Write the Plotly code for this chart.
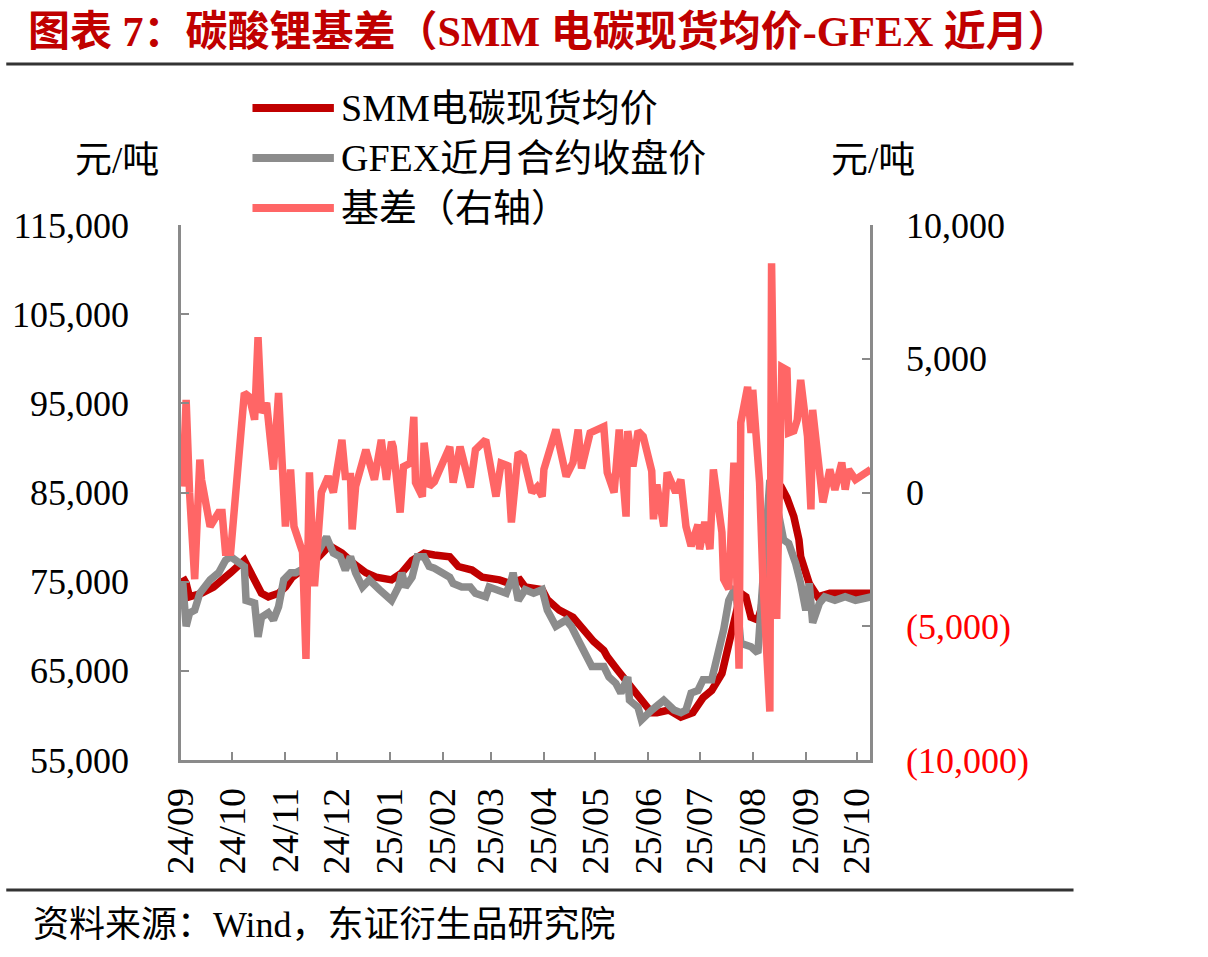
import plotly.graph_objects as go

# ---------------- data ----------------
smm_dates = [
    "2024-09-02", "2024-09-04", "2024-09-06", "2024-09-10", "2024-09-13", "2024-09-20", "2024-09-26",
    "2024-09-30", "2024-10-08", "2024-10-10", "2024-10-15", "2024-10-18", "2024-10-22", "2024-10-28",
    "2024-11-01", "2024-11-05", "2024-11-12", "2024-11-19", "2024-11-26", "2024-11-28", "2024-12-04",
    "2024-12-06", "2024-12-11", "2024-12-18", "2024-12-24", "2025-01-02", "2025-01-08", "2025-01-14",
    "2025-01-21", "2025-01-27", "2025-02-05", "2025-02-10", "2025-02-18", "2025-02-24", "2025-03-06",
    "2025-03-12", "2025-03-18", "2025-03-21", "2025-03-31", "2025-04-03", "2025-04-10", "2025-04-18",
    "2025-04-25", "2025-04-30", "2025-05-06", "2025-05-08", "2025-05-14", "2025-05-22", "2025-05-26",
    "2025-05-29", "2025-06-03", "2025-06-06", "2025-06-13", "2025-06-20", "2025-06-27", "2025-07-03",
    "2025-07-08", "2025-07-14", "2025-07-18", "2025-07-22", "2025-07-25", "2025-07-28", "2025-07-31",
    "2025-08-04", "2025-08-06", "2025-08-08", "2025-08-11", "2025-08-13", "2025-08-15", "2025-08-18",
    "2025-08-21", "2025-08-25", "2025-08-28", "2025-08-29", "2025-09-03", "2025-09-08", "2025-09-15",
    "2025-09-22", "2025-09-30", "2025-10-09",
]
smm_values = [
    75500, 74800, 73300, 73500, 73700, 74400, 75500,
    76000, 77400, 76700, 74800, 73700, 73300, 73700,
    74400, 75500, 76500, 77500, 78900, 78900, 78200,
    77800, 77000, 76000, 75500, 75200, 76000, 77400,
    78200, 78000, 77800, 76700, 76300, 75500, 75200,
    74800, 75200, 74400, 74100, 73000, 71800, 71000,
    69300, 68300, 67300, 66600, 65100, 63200, 62500,
    61500, 60300, 60300, 60600, 59800, 60300, 62000,
    62800, 64700, 68100, 71800, 73700, 73300, 71000,
    70700, 72000, 76000, 80500, 84000, 85300, 85500,
    84400, 82300, 79700, 77800, 74800, 73300, 73700,
    73700, 73700, 73700,
]

gfex_dates = [
    "2024-09-02", "2024-09-04", "2024-09-06", "2024-09-09", "2024-09-12", "2024-09-18", "2024-09-23",
    "2024-09-25", "2024-09-27", "2024-09-30", "2024-10-08", "2024-10-09", "2024-10-14", "2024-10-16",
    "2024-10-18", "2024-10-22", "2024-10-25", "2024-10-28", "2024-10-31", "2024-11-04", "2024-11-07",
    "2024-11-12", "2024-11-19", "2024-11-25", "2024-11-29", "2024-12-03", "2024-12-06", "2024-12-09",
    "2024-12-12", "2024-12-16", "2024-12-20", "2024-12-26", "2025-01-02", "2025-01-06", "2025-01-08",
    "2025-01-10", "2025-01-14", "2025-01-17", "2025-01-21", "2025-01-24", "2025-01-27", "2025-02-05",
    "2025-02-07", "2025-02-12", "2025-02-17", "2025-02-20", "2025-02-26", "2025-02-28", "2025-03-04",
    "2025-03-10", "2025-03-13", "2025-03-14", "2025-03-17", "2025-03-21", "2025-03-26", "2025-03-31",
    "2025-04-03", "2025-04-08", "2025-04-14", "2025-04-17", "2025-04-22", "2025-04-25", "2025-04-29",
    "2025-05-06", "2025-05-09", "2025-05-13", "2025-05-16", "2025-05-20", "2025-05-21", "2025-05-26",
    "2025-05-28", "2025-06-03", "2025-06-05", "2025-06-10", "2025-06-16", "2025-06-20", "2025-06-23",
    "2025-06-26", "2025-06-30", "2025-07-03", "2025-07-08", "2025-07-11", "2025-07-15", "2025-07-18",
    "2025-07-22", "2025-07-25", "2025-07-31", "2025-08-04", "2025-08-07", "2025-08-11", "2025-08-13",
    "2025-08-19", "2025-08-22", "2025-08-26", "2025-08-29", "2025-09-01", "2025-09-03", "2025-09-05",
    "2025-09-09", "2025-09-12", "2025-09-18", "2025-09-24", "2025-09-30", "2025-10-09",
]
gfex_values = [
    75000, 70000, 71500, 71800, 73700, 75200, 76000,
    76700, 77400, 77800, 76700, 72900, 72600, 68800,
    71000, 71500, 70700, 72200, 75200, 76000, 76000,
    76500, 78000, 80000, 78200, 77800, 76300, 77800,
    76000, 74400, 75200, 74100, 72900, 74400, 76000,
    74400, 75500, 77800, 77800, 76700, 76500, 75500,
    74800, 74400, 74400, 73700, 73300, 74400, 74100,
    73700, 75200, 76000, 72900, 74100, 73700, 74100,
    71800, 70000, 70700, 70000, 68100, 67000, 65500,
    65500, 64300, 63600, 62500, 64300, 61700, 60900,
    59500, 60600, 60900, 61700, 60600, 60300, 60600,
    62500, 62800, 64000, 64000, 66200, 69600, 72900,
    74400, 68100, 67700, 67000, 74800, 86400, 85600,
    79700, 79300, 77100, 74800, 71800, 74800, 70400,
    72600, 73300, 72900, 73300, 72900, 73300,
]

basis_dates = [
    "2024-09-02", "2024-09-04", "2024-09-06", "2024-09-09", "2024-09-12", "2024-09-13", "2024-09-18",
    "2024-09-23", "2024-09-25", "2024-09-27", "2024-09-30", "2024-10-08", "2024-10-11", "2024-10-14",
    "2024-10-16", "2024-10-18", "2024-10-21", "2024-10-23", "2024-10-25", "2024-10-28", "2024-11-01",
    "2024-11-04", "2024-11-06", "2024-11-11", "2024-11-13", "2024-11-15", "2024-11-18", "2024-11-22",
    "2024-11-26", "2024-11-29", "2024-12-04", "2024-12-06", "2024-12-09", "2024-12-10", "2024-12-12",
    "2024-12-18", "2024-12-23", "2024-12-27", "2024-12-30", "2025-01-02", "2025-01-03", "2025-01-07",
    "2025-01-09", "2025-01-13", "2025-01-15", "2025-01-16", "2025-01-20", "2025-01-21", "2025-01-24",
    "2025-01-27", "2025-02-05", "2025-02-07", "2025-02-11", "2025-02-17", "2025-02-20", "2025-02-26",
    "2025-02-28", "2025-03-04", "2025-03-07", "2025-03-11", "2025-03-13", "2025-03-17", "2025-03-20",
    "2025-03-25", "2025-03-28", "2025-03-31", "2025-04-01", "2025-04-08", "2025-04-14", "2025-04-18",
    "2025-04-21", "2025-04-23", "2025-04-28", "2025-05-06", "2025-05-08", "2025-05-12", "2025-05-15",
    "2025-05-19", "2025-05-20", "2025-05-23", "2025-05-26", "2025-05-29", "2025-06-03", "2025-06-04",
    "2025-06-06", "2025-06-10", "2025-06-12", "2025-06-17", "2025-06-20", "2025-06-23", "2025-06-26",
    "2025-06-30", "2025-07-01", "2025-07-04", "2025-07-07", "2025-07-09", "2025-07-14", "2025-07-15",
    "2025-07-18", "2025-07-21", "2025-07-24", "2025-07-25", "2025-07-29", "2025-07-31", "2025-08-01",
    "2025-08-05", "2025-08-07", "2025-08-11", "2025-08-12", "2025-08-15", "2025-08-18", "2025-08-21",
    "2025-08-22", "2025-08-25", "2025-08-27", "2025-08-29", "2025-09-02", "2025-09-04", "2025-09-05",
    "2025-09-09", "2025-09-11", "2025-09-15", "2025-09-18", "2025-09-22", "2025-09-24", "2025-09-26",
    "2025-09-30", "2025-10-09",
]
basis_values = [
    220, 3460, 0, -3240, 1230, 480, -1270,
    -750, -750, -2230, -2230, 3720, 3570, 2720,
    5810, 2980, 3350, 2090, 860, 3720, -1270,
    860, -1270, -2230, -6220, 750, -3500, 0,
    600, 0, 1970, 600, 600, -1380, 220,
    1600, 480, 1970, 480, 1900, 1700, -750,
    970, 1100, 2830, 370, -150, 1860, 220,
    400, 1710, 370, 1710, 190, 1600, 1970,
    1120, -150, 1100, 1000, -1120, 1490, 1340,
    0, 200, -150, 860, 2350, 600, 1120,
    2350, 900, 2230, 2460, 750, 0, 2350,
    -900, 2300, 970, 2300, 2100, 800, -1000,
    300, -1270, 750, 0, 480, -1270, -2000,
    -1200, -2120, -1100, -2120, 860, -1490, -3240,
    -3610, 1120, -6590, 2610, 3950, 2230, 3840,
    370, -3350, -8190, 8570, -4730, 4690, 4580,
    2230, 2300, 2720, 4210, 2090, -630, 3090,
    600, -370, 860, 100, 1120, 110, 860,
    480, 860,
]

left_ticks = [55000, 65000, 75000, 85000, 95000, 105000, 115000]
right_ticks = [-10000, -5000, 0, 5000, 10000]
right_tick_text = ['<span style="color:#FF0000">(10,000)</span>',
                   '<span style="color:#FF0000">(5,000)</span>',
                   "0", "5,000", "10,000"]

series_names = ["SMM电碳现货均价", "GFEX近月合约收盘价", "基差（右轴）"]
series_colors = ["#C00000", "#8C8C8C", "#FF6666"]

title_text = "图表 7：碳酸锂基差（SMM 电碳现货均价-GFEX 近月）"
unit_text = "元/吨"
source_text = "资料来源：Wind，东证衍生品研究院"

# ---------------- layout helpers ----------------
W, H = 1208, 957
L, R, T, B = 176, 870, 225, 760
FONT = "Liberation Serif, 'Noto Sans CJK SC', serif"


def px(x):
    return (x - L) / (R - L)


def py(y):
    return (B - y) / (B - T)


fig = go.Figure()
fig.add_trace(go.Scatter(x=smm_dates, y=smm_values, mode="lines", name=series_names[0],
                         line=dict(color=series_colors[0], width=7.5), yaxis="y"))
fig.add_trace(go.Scatter(x=gfex_dates, y=gfex_values, mode="lines", name=series_names[1],
                         line=dict(color=series_colors[1], width=7.5), yaxis="y"))
fig.add_trace(go.Scatter(x=basis_dates, y=basis_values, mode="lines", name=series_names[2],
                         line=dict(color=series_colors[2], width=7.5), yaxis="y2"))

axis_common = dict(showgrid=False, zeroline=False, showline=True, linecolor="#8A8A8A",
                   linewidth=2.5, ticks="inside", ticklen=8, tickwidth=2, tickcolor="#8A8A8A",
                   tickfont=dict(family=FONT, size=36, color="#000000"))

fig.update_layout(
    width=W, height=H,
    margin=dict(l=L, r=W - R, t=T, b=H - B, pad=0),
    paper_bgcolor="white", plot_bgcolor="white",
    showlegend=False,
    font=dict(family=FONT, color="#000000"),
    xaxis=dict(type="date", range=["2024-09-01", "2025-10-08 12:00"],
               tick0="2024-09-01", dtick="M1", tickformat="%y/%m", tickangle=-90,
               ticklabelstandoff=10, **axis_common),
    yaxis=dict(range=[55000, 115000], tickvals=left_ticks, tickformat=",d",
               ticklabelstandoff=42, **axis_common),
    yaxis2=dict(range=[-10000, 10000], overlaying="y", side="right",
                tickvals=right_ticks, ticktext=right_tick_text,
                ticklabelstandoff=26, **axis_common),
)
fig.update_xaxes(tickfont=dict(size=38))

annotations = [
    dict(text="<b>" + title_text + "</b>", x=px(20), y=py(32), xanchor="left", yanchor="middle",
         font=dict(size=42, color="#C00000", family=FONT)),
    dict(text=unit_text, x=px(112), y=py(160), xanchor="center", yanchor="middle",
         font=dict(size=37)),
    dict(text=unit_text, x=px(873), y=py(160), xanchor="center", yanchor="middle",
         font=dict(size=37)),
    dict(text=source_text, x=px(25), y=py(925), xanchor="left", yanchor="middle",
         font=dict(size=36)),
]
legend_rows = [108, 158, 208]
for name, color, yy in zip(series_names, series_colors, legend_rows):
    annotations.append(dict(text=name, x=px(335), y=py(yy), xanchor="left", yanchor="middle",
                            font=dict(size=38)))
for a in annotations:
    a.update(xref="paper", yref="paper", showarrow=False)
fig.update_layout(annotations=annotations)

shapes = [
    dict(type="line", x0=px(0), x1=px(1075), y0=py(64), y1=py(64),
         line=dict(color="#333333", width=3)),
    dict(type="line", x0=px(0), x1=px(1075), y0=py(890), y1=py(890),
         line=dict(color="#333333", width=3)),
]
for color, yy in zip(series_colors, legend_rows):
    shapes.append(dict(type="line", x0=px(248), x1=px(330), y0=py(yy), y1=py(yy),
                       line=dict(color=color, width=8)))
for s in shapes:
    s.update(xref="paper", yref="paper")
fig.update_layout(shapes=shapes)

fig.write_html("out.html")
